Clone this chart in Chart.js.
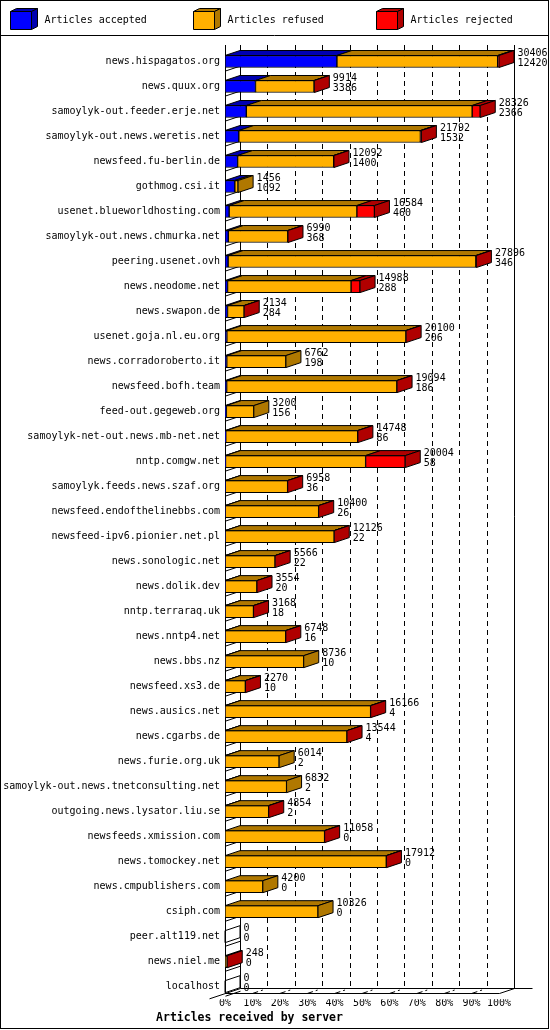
<!DOCTYPE html>
<html>
<head>
<meta charset="utf-8">
<title>Articles received by server</title>
<script src="https://cdn.jsdelivr.net/npm/chart.js@4/dist/chart.umd.min.js"></script>
<style>
  body { margin: 0; background: #fff; }
  canvas { display: block; }
</style>
</head>
<body>
<canvas id="grafico" width="550" height="1030"></canvas>
<script>
// servers, in the order of the picture
let servers = ['news.hispagatos.org', 'news.quux.org', 'samoylyk-out.feeder.erje.net', 'samoylyk-out.news.weretis.net',
    'newsfeed.fu-berlin.de', 'gothmog.csi.it', 'usenet.blueworldhosting.com', 'samoylyk-out.news.chmurka.net',
    'peering.usenet.ovh', 'news.neodome.net', 'news.swapon.de', 'usenet.goja.nl.eu.org', 'news.corradoroberto.it',
    'newsfeed.bofh.team', 'feed-out.gegeweb.org', 'samoylyk-net-out.news.mb-net.net', 'nntp.comgw.net',
    'samoylyk.feeds.news.szaf.org', 'newsfeed.endofthelinebbs.com', 'newsfeed-ipv6.pionier.net.pl',
    'news.sonologic.net', 'news.dolik.dev', 'nntp.terraraq.uk', 'news.nntp4.net', 'news.bbs.nz', 'newsfeed.xs3.de',
    'news.ausics.net', 'news.cgarbs.de', 'news.furie.org.uk', 'samoylyk-out.news.tnetconsulting.net',
    'outgoing.news.lysator.liu.se', 'newsfeeds.xmission.com', 'news.tomockey.net', 'news.cmpublishers.com',
    'csiph.com', 'peer.alt119.net', 'news.niel.me', 'localhost'];

// the two numbers printed next to each bar
let offered = [30406, 9914, 28326, 21792, 12092, 1456, 16584, 6990, 27896, 14988, 2134, 20100, 6762, 19094, 3200,
    14748, 20004, 6958, 10400, 12126, 5566, 3554, 3168, 6748, 8736, 2270, 16166, 13544, 6014, 6832, 4854, 11058,
    17912, 4200, 10326, 0, 248, 0];
let accepted = [12420, 3386, 2366, 1532, 1400, 1092, 460, 368, 346, 288, 284, 206, 198, 186, 156, 86, 58, 36, 26,
    22, 22, 20, 18, 16, 10, 10, 4, 4, 2, 2, 2, 0, 0, 0, 0, 0, 0, 0];

let refused = [17836, 6498, 25060, 20150, 10662, 364, 14174, 6602, 27490, 13700, 1840, 19874, 6564, 18888, 3044,
    14642, 15546, 6912, 10364, 12094, 5534, 3524, 3140, 6722, 8726, 2250, 16152, 13530, 6012, 6830, 4842, 11048,
    17902, 4200, 10326, 0, 228, 0];
let rejected = [150, 30, 900, 110, 30, 0, 1950, 20, 60, 1000, 10, 20, 0, 20, 0, 20, 4400, 10, 10, 10, 10, 10, 10,
    10, 0, 10, 10, 10, 0, 0, 10, 10, 10, 0, 0, 0, 20, 0];

let percentTicks = [0, 10, 20, 30, 40, 50, 60, 70, 80, 90, 100];
let seriesNames = ['Articles accepted', 'Articles refused', 'Articles rejected'];

let colors = ['#0000ff', '#ffb000', '#ff0000'];
let darkColors = ['#0000b0', '#b07800', '#b00000'];

const DX = 15, DY = 5;   // 3d depth
const mono = '"DejaVu Sans Mono", "Liberation Mono", monospace';
let axisMax = Math.max(...offered);

function face(ctx, pts, fill) {
    ctx.beginPath();
    ctx.moveTo(pts[0][0], pts[0][1]);
    for (let i = 1; i < pts.length; i++) {
        ctx.lineTo(pts[i][0], pts[i][1]);
    }
    ctx.closePath();
    if (fill) {
        ctx.fillStyle = fill;
        ctx.fill();
    }
    ctx.strokeStyle = '#000';
    ctx.lineWidth = 1;
    ctx.stroke();
}

function line(ctx, x1, y1, x2, y2) {
    ctx.beginPath();
    ctx.moveTo(x1, y1);
    ctx.lineTo(x2, y2);
    ctx.stroke();
}

// walls, floor and dashed grid, behind the bars
let walls = {
    id: 'walls',
    beforeDatasetsDraw(chart) {
        let ctx = chart.ctx;
        let sx = chart.scales.x, sy = chart.scales.y;
        let x0 = Math.round(sx.getPixelForValue(0)) + 0.5;
        let x100 = Math.round(sx.getPixelForValue(axisMax)) + 0.5;
        let top = 45;
        let floor = Math.round(sy.getPixelForValue(servers.length - 1) + 6) + 0.5;
        ctx.save();
        ctx.strokeStyle = '#000';
        ctx.lineWidth = 1;
        // dashed lines on the back wall
        ctx.setLineDash([5, 4]);
        percentTicks.forEach(p => {
            if (p == 0 || p == 100) return;
            let gx = Math.round(sx.getPixelForValue(axisMax * p / 100)) + DX + 0.5;
            line(ctx, gx, top, gx, floor - DY);
        });
        ctx.setLineDash([]);
        line(ctx, x0, top, x0, floor);
        line(ctx, x0 + DX, top, x0 + DX, floor - DY);
        line(ctx, x100 + DX, top, x100 + DX, floor - DY);
        // little slanted ticks on the left wall
        servers.forEach((s, i) => {
            let c = sy.getPixelForValue(i);
            line(ctx, x0, c + 9.5, x0 + DX, c + 4.5);
        });
        // floor
        line(ctx, x0 - 16, floor + 16 / 3, x0 + DX, floor - DY);
        line(ctx, x0, floor, x100, floor);
        line(ctx, x100, floor, x100 + DX, floor - DY);
        line(ctx, x0 + DX, floor - DY, x100 + DX + 18, floor - DY);
        ctx.setLineDash([6, 3, 2, 30]);
        percentTicks.forEach(p => {
            if (p == 0 || p == 100) return;
            let tx = sx.getPixelForValue(axisMax * p / 100);
            line(ctx, tx, floor, tx + DX, floor - DY);
        });
        ctx.restore();
    }
};

// tops and sides of the bars, and the numbers
let depth = {
    id: 'depth',
    afterDatasetsDraw(chart) {
        let ctx = chart.ctx;
        let sx = chart.scales.x;
        let x0 = sx.getPixelForValue(0);
        let values = [accepted, refused, rejected];
        ctx.save();
        for (let i = 0; i < servers.length; i++) {
            let bars = [0, 1, 2].map(d => chart.getDatasetMeta(d).data[i]);
            let up = bars[0].y - bars[0].height / 2;
            let down = bars[0].y + bars[0].height / 2;
            let last = -1;
            for (let d = 0; d < 3; d++) {
                if (values[d][i] > 0) {
                    let a = bars[d].base, b = bars[d].x;
                    face(ctx, [[a, up], [b, up], [b + DX, up - DY], [a + DX, up - DY]], darkColors[d]);
                    last = d;
                }
            }
            let end = last >= 0 ? bars[last].x : x0;
            face(ctx, [[end, up], [end, down], [end + DX, down - DY], [end + DX, up - DY]],
                last >= 0 ? darkColors[last] : null);
            // offered / accepted
            let tx = sx.getPixelForValue(offered[i]) + DX + 3.5;
            ctx.fillStyle = '#000';
            ctx.font = '10px ' + mono;
            ctx.textBaseline = 'middle';
            ctx.textAlign = 'left';
            ctx.fillText(String(offered[i]), tx, bars[0].y - 8.5);
            ctx.fillText(String(accepted[i]), tx, bars[0].y + 1.5);
        }
        ctx.restore();
    }
};

// legend box on top and frame round the picture
let frame = {
    id: 'frame',
    afterDraw(chart) {
        let ctx = chart.ctx;
        ctx.save();
        ctx.strokeStyle = '#000';
        ctx.lineWidth = 1;
        ctx.strokeRect(0.5, 0.5, 548, 1028);
        line(ctx, 0, 35.5, 549, 35.5);
        let lx = [10.5, 193.5, 376.5];
        seriesNames.forEach((name, d) => {
            let x = lx[d], y = 11.5, w = 21, h = 18, dx = 6, dy = 3;
            face(ctx, [[x, y], [x + w, y], [x + w + dx, y - dy], [x + dx, y - dy]], darkColors[d]);
            face(ctx, [[x + w, y], [x + w, y + h], [x + w + dx, y + h - dy], [x + w + dx, y - dy]], darkColors[d]);
            face(ctx, [[x, y], [x + w, y], [x + w, y + h], [x, y + h]], colors[d]);
            ctx.fillStyle = '#000';
            ctx.font = '10px ' + mono;
            ctx.textBaseline = 'middle';
            ctx.textAlign = 'left';
            ctx.fillText(name, x + 34, 20.5);
        });
        ctx.restore();
    }
};

Chart.defaults.color = '#000';
Chart.defaults.font.family = mono;
Chart.defaults.font.size = 10;

let ctx = document.getElementById('grafico').getContext('2d');
let datos = {
    labels: servers,
    datasets: seriesNames.map((name, d) => ({
        label: name,
        data: [accepted, refused, rejected][d],
        backgroundColor: colors[d],
        borderColor: '#000',
        borderWidth: 1,
        borderSkipped: false,
        barThickness: 12
    }))
};
let opciones = {
    indexAxis: 'y',
    responsive: false,
    animation: false,
    events: [],
    layout: { padding: { top: 49, left: 0, right: 51, bottom: 0 } },
    plugins: {
        legend: { display: false },
        tooltip: { enabled: false },
        title: {
            display: true,
            position: 'bottom',
            text: 'Articles received by server',
            font: { family: mono, size: 11.5, weight: 'bold' },
            color: '#000',
            padding: { top: 0, bottom: 5 }
        }
    },
    scales: {
        x: {
            stacked: true,
            min: 0,
            max: axisMax,
            grid: { display: false, drawTicks: false },
            border: { display: false },
            afterBuildTicks: s => { s.ticks = percentTicks.map(p => ({ value: axisMax * p / 100 })); },
            afterFit: s => { s.height = 12; },
            ticks: {
                autoSkip: false,
                maxRotation: 0,
                padding: -2,
                callback: v => Math.round(v / axisMax * 100) + '%'
            }
        },
        y: {
            stacked: true,
            grid: { display: false, drawTicks: false },
            border: { display: false },
            afterFit: s => { s.width = 225; },
            ticks: { autoSkip: false, padding: 5 }
        }
    }
};
new Chart(ctx, {
    type: 'bar',
    data: datos,
    options: opciones,
    plugins: [walls, depth, frame]
});
</script>
</body>
</html>
